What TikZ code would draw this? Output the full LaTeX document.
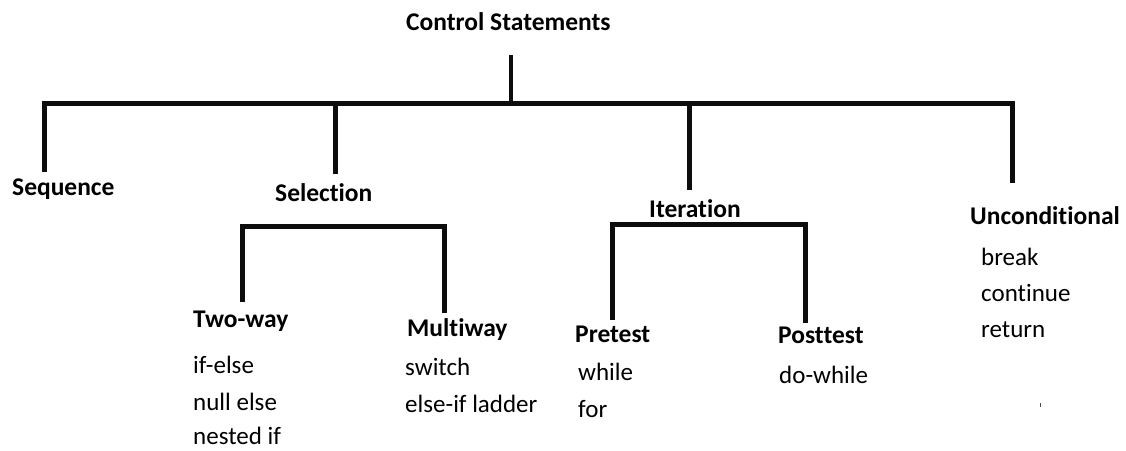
\documentclass[tikz,border=0pt]{standalone}
\usepackage{fontspec}
\setmainfont{Carlito}[Ligatures={NoCommon}]
\begin{document}
\begin{tikzpicture}[x=1pt,y=-1pt,
  txt/.style={anchor=base west,inner sep=0pt,font=\fontsize{25}{30}\selectfont},
  head/.style={txt,font=\fontsize{25.5}{30}\selectfont\bfseries},
  link/.style={line width=5pt,line join=miter,line cap=butt,black!95}]
\useasboundingbox (0,0) rectangle (1126,450);
% labels
\node[head] (cs) at (406,30) {Control Statements};
\node[head] (seq) at (12,195) {Sequence};
\node[head] (sel) at (275,201) {Selection};
\node[head] (ite) at (649,217) {Iteration};
\node[head] (unc) at (970,224) {Unconditional};
\node[head] (two) at (193,327) {Two-way};
\node[head] (mul) at (407,336) {Multiway};
\node[head] (pre) at (575,342) {Pretest};
\node[head] (pos) at (778,343) {Posttest};
\node[txt] (t1) at (193,373) {if-else};
\node[txt] (t2) at (193,410) {null else};
\node[txt] (t3) at (193,444) {nested if};
\node[txt] (m1) at (405,375) {switch};
\node[txt] (m2) at (405,412) {else-if ladder};
\node[txt] (p1) at (578,380) {while};
\node[txt] (p2) at (578,417) {for};
\node[txt] (q1) at (779,383) {do-while};
\node[txt] (u1) at (981,265) {break};
\node[txt] (u2) at (981,301) {continue};
\node[txt] (u3) at (981,337) {return};
% junction coordinates
\coordinate (stubT) at (511,55);
\coordinate (stubB) at (511,101);
\coordinate (bL) at (44,103);
\coordinate (bR) at (1012,103);
\coordinate (bS) at (335,103);
\coordinate (bI) at (689,103);
\coordinate (eSeq) at (44,172);
\coordinate (eSel) at (335,174);
\coordinate (eIte) at (689,190);
\coordinate (eUnc) at (1012,183);
\coordinate (sL) at (242,226);
\coordinate (sR) at (444,226);
\coordinate (eTwo) at (242,302);
\coordinate (eMul) at (444,313);
\coordinate (iL) at (612,224);
\coordinate (iR) at (805,224);
\coordinate (ePre) at (612,320);
\coordinate (ePos) at (805,323);
% connectors
\draw[link,line width=4.5pt] (stubT) -- (stubB);
\draw[link] (eSeq) -- (bL) -- (bR) -- (eUnc);
\draw[link] (bS) -- (eSel);
\draw[link] (bI) -- (eIte);
\draw[link] (eTwo) -- (sL) -- (sR) -- (eMul);
\draw[link] (ePre) -- (iL) -- (iR) -- (ePos);
% stray mark
\fill[black!70] (1039.5,403) rectangle (1041,407);
\end{tikzpicture}
\end{document}
